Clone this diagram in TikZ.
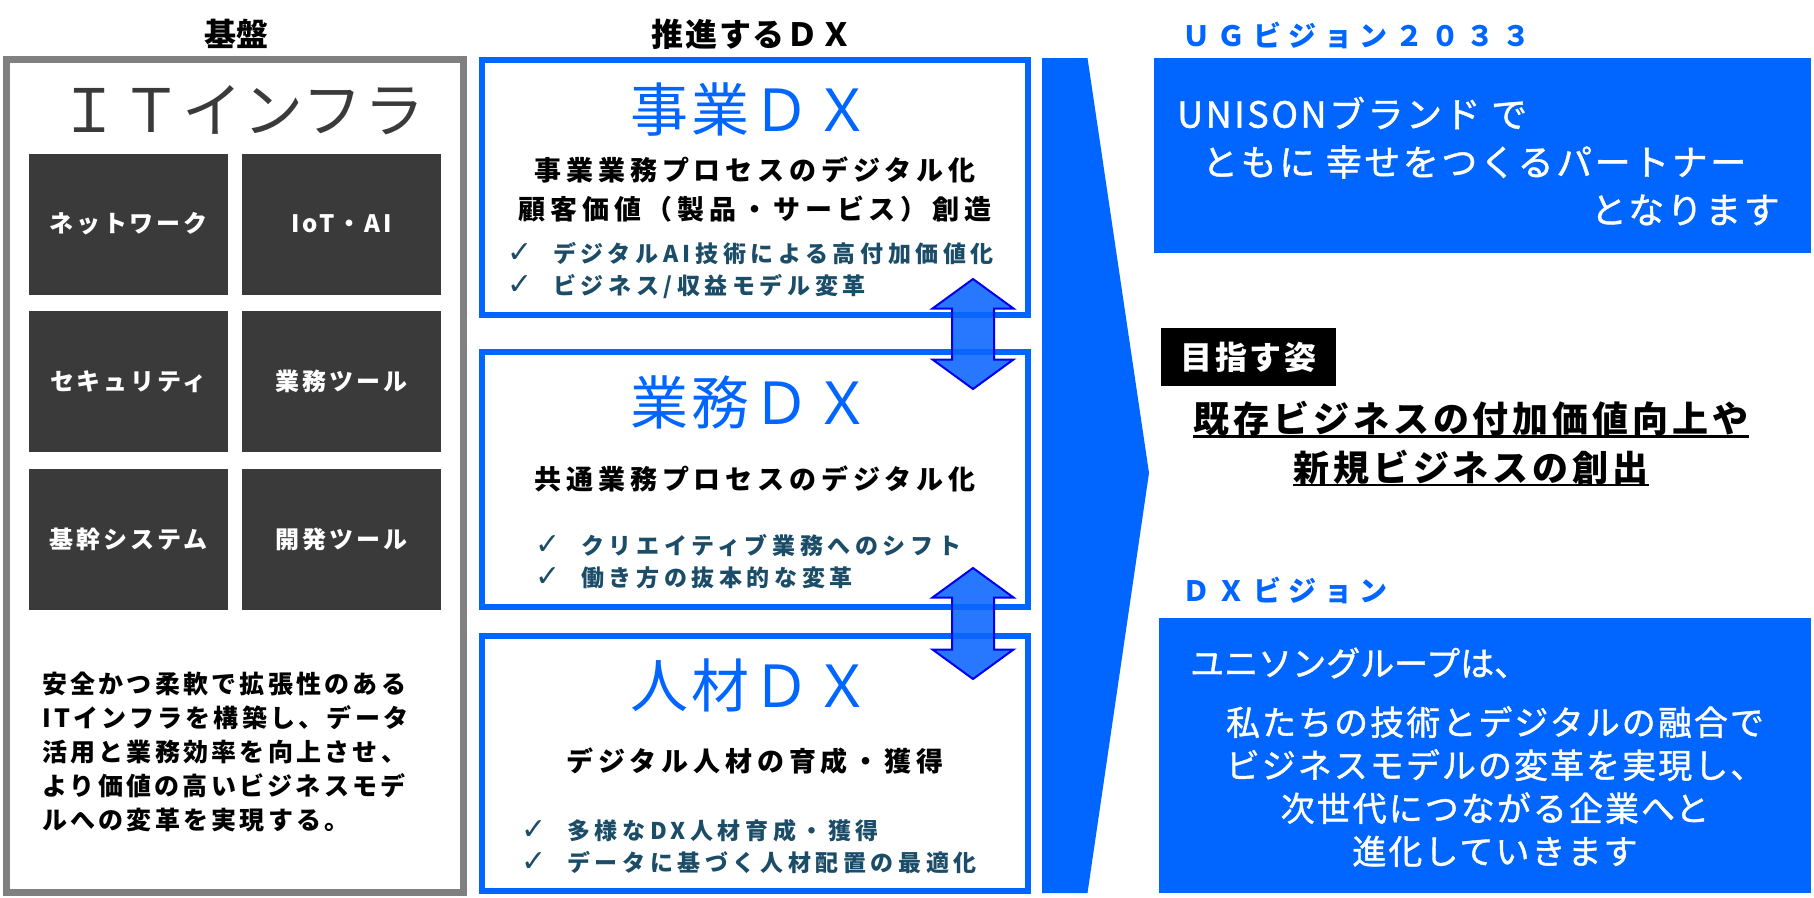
\documentclass[tikz,border=0pt]{standalone}
\usepackage{fontspec}
\setmainfont{Noto Sans CJK JP}
\newfontfamily\dvsans{DejaVu Sans}
\usepackage{tikz}
\usetikzlibrary{positioning}
\definecolor{dxblue}{HTML}{0066FF}
\definecolor{tilegrey}{HTML}{3A3A3A}
\definecolor{framegrey}{HTML}{808080}
\definecolor{bullink}{HTML}{1B4D68}
\definecolor{arrowfill}{HTML}{0A66FF}
\definecolor{arrowline}{HTML}{0000EE}
\newcommand{\fsz}[2]{\fontsize{#1}{#2}\selectfont}
\newcommand{\lsp}[1]{\addfontfeature{LetterSpace=#1}}
\newcommand{\okmark}{\makebox[46pt][l]{\dvsans\mdseries\fsz{30}{32}✓}}
\tikzset{
  ttl/.style={font=\bfseries\fsz{32}{36}, inner sep=0pt},
  basebox/.style={draw=framegrey, line width=7pt, minimum width=457pt, minimum height=833pt},
  tilebox/.style={fill=tilegrey, text=white, minimum width=199pt, minimum height=141pt,
                  font=\bfseries\fsz{24}{28}\lsp{12}},
  note/.style={anchor=west, align=left, inner sep=0pt, font=\bfseries\fsz{25}{34}\lsp{13}},
  dxbox/.style={draw=dxblue, fill=white, line width=6pt, minimum width=546pt, minimum height=255pt},
  dxhead/.style={text=dxblue, inner sep=0pt, font=\fsz{58}{64}\lsp{5}},
  dxsub/.style={inner sep=0pt, align=center, font=\bfseries\fsz{27}{39}\lsp{18}},
  chk/.style={text=bullink, anchor=west, align=left, inner sep=0pt, font=\bfseries\fsz{23}{32}\lsp{20}},
  dbl/.style={draw=arrowline, line width=2pt, fill=arrowfill, fill opacity=0.88},
  vis/.style={text=dxblue, anchor=west, inner sep=0pt, font=\bfseries\fsz{28}{32}\lsp{27}},
  panel/.style={fill=dxblue},
  pantxt/.style={text=white, inner sep=0pt, font=\fsz{36}{48}\addfontfeature{FakeBold=1.2}\lsp{7}},
  goal/.style={inner sep=0pt, font=\bfseries\fsz{36}{40}\lsp{11}},
  uline/.style={line width=2.5pt},
}

\begin{document}
\begin{tikzpicture}[x=1pt, y=-1pt]
\useasboundingbox (0,0) rectangle (1814,897);
\fill[white] (0,0) rectangle (1814,897);

\node[ttl] (kiban) at (236,34) {基盤};
\node[basebox] (base) at (235,476) {};
\node[text=tilegrey, inner sep=0pt, font=\fsz{60}{66}\lsp{2}] (itinfra) at (242,110) {ＩＴインフラ};
\node[tilebox] (net)  at (128.5,224)   {ネットワーク};
\node[tilebox] (iot)  at (341.5,224)   {IoT・AI};
\node[tilebox] (sec)  at (128.5,381.5) {セキュリティ};
\node[tilebox] (tool) at (341.5,381.5) {業務ツール};
\node[tilebox] (core) at (128.5,539)   {基幹システム};
\node[tilebox] (dev)  at (341.5,539)   {開発ツール};
\node[note] (basetxt) at (42,752) {安全かつ柔軟で拡張性のある\\ITインフラを構築し、データ\\活用と業務効率を向上させ、\\より価値の高いビジネスモデ\\ルへの変革を実現する。};

\node[ttl, font=\bfseries\fsz{32}{36}\lsp{6}] (suishin) at (752,34) {推進するＤＸ};
\node[dxbox] (biz) at (755,187.5) {};
\node[dxbox] (ops) at (755,479.5) {};
\node[dxbox] (hr)  at (755,763.5) {};

\node[dxhead] (bizhead) at (751,110) {事業ＤＸ};
\node[dxsub] (bizsub) at (755,189.5) {事業業務プロセスのデジタル化\\顧客価値（製品・サービス）創造};
\node[chk] (bizchk) at (507,271) {\okmark デジタルAI技術による高付加価値化\\\okmark ビジネス/収益モデル変革};

\node[dxhead] (opshead) at (751,402) {業務ＤＸ};
\node[dxsub] (opssub) at (755,479) {共通業務プロセスのデジタル化};
\node[chk] (opschk) at (535,561.5) {\okmark クリエイティブ業務へのシフト\\\okmark 働き方の抜本的な変革};

\node[dxhead] (hrhead) at (751,685) {人材ＤＸ};
\node[dxsub] (hrsub) at (755,761) {デジタル人材の育成・獲得};
\node[chk] (hrchk) at (521,846.5) {\okmark 多様なDX人材育成・獲得\\\okmark データに基づく人材配置の最適化};

\foreach \t/\b in {279/389,568/679}
  \filldraw[dbl] (973,\t) -- (1013.5,\t+29.5) -- (994,\t+29.5) -- (994,\b-29.5)
    -- (1013.5,\b-29.5) -- (973,\b) -- (932.5,\b-29.5) -- (952,\b-29.5)
    -- (952,\t+29.5) -- (932.5,\t+29.5) -- cycle;

\fill[dxblue] (1042,58) -- (1087.5,58) -- (1149,473) -- (1087.5,893) -- (1042,893) -- cycle;

\node[vis] (ugvis) at (1182,35) {ＵＧビジョン２０３３};
\node[panel, minimum width=657pt, minimum height=195pt] (ugbox) at (1482.5,155.5) {};
\node[pantxt, anchor=west] (ug1) at (1177,113) {UNISONブランド で};
\node[pantxt, anchor=west] (ug2) at (1202,162) {ともに 幸せをつくるパートナー};
\node[pantxt, anchor=east] (ug3) at (1780,210) {となります};

\node[fill=black, text=white, minimum width=175pt, minimum height=58pt, inner sep=0pt,
      font=\bfseries\fsz{32}{36}\lsp{9}] (aim) at (1248.5,357) {目指す姿};
\node[goal] (goal1) at (1471,419) {既存ビジネスの付加価値向上や};
\node[goal, below=13pt of goal1] (goal2) {新規ビジネスの創出};
\draw[uline] (goal1.south west) -- (goal1.south east);
\draw[uline] (goal2.south west) -- (goal2.south east);

\node[vis] (dxvis) at (1182,590) {ＤＸビジョン};
\node[panel, minimum width=652pt, minimum height=275pt] (dxpanel) at (1485,755.5) {};
\node[pantxt, anchor=west, font=\fsz{34}{43}\addfontfeature{FakeBold=1.2}] (dx1) at (1190,663) {ユニソングループは、};
\node[pantxt, align=center, font=\fsz{34}{43}\addfontfeature{FakeBold=1.2}\lsp{6}] (dx2) at (1495,786.5) {私たちの技術とデジタルの融合で\\ビジネスモデルの変革を実現し、\\次世代につながる企業へと\\進化していきます};

\end{tikzpicture}
\end{document}
